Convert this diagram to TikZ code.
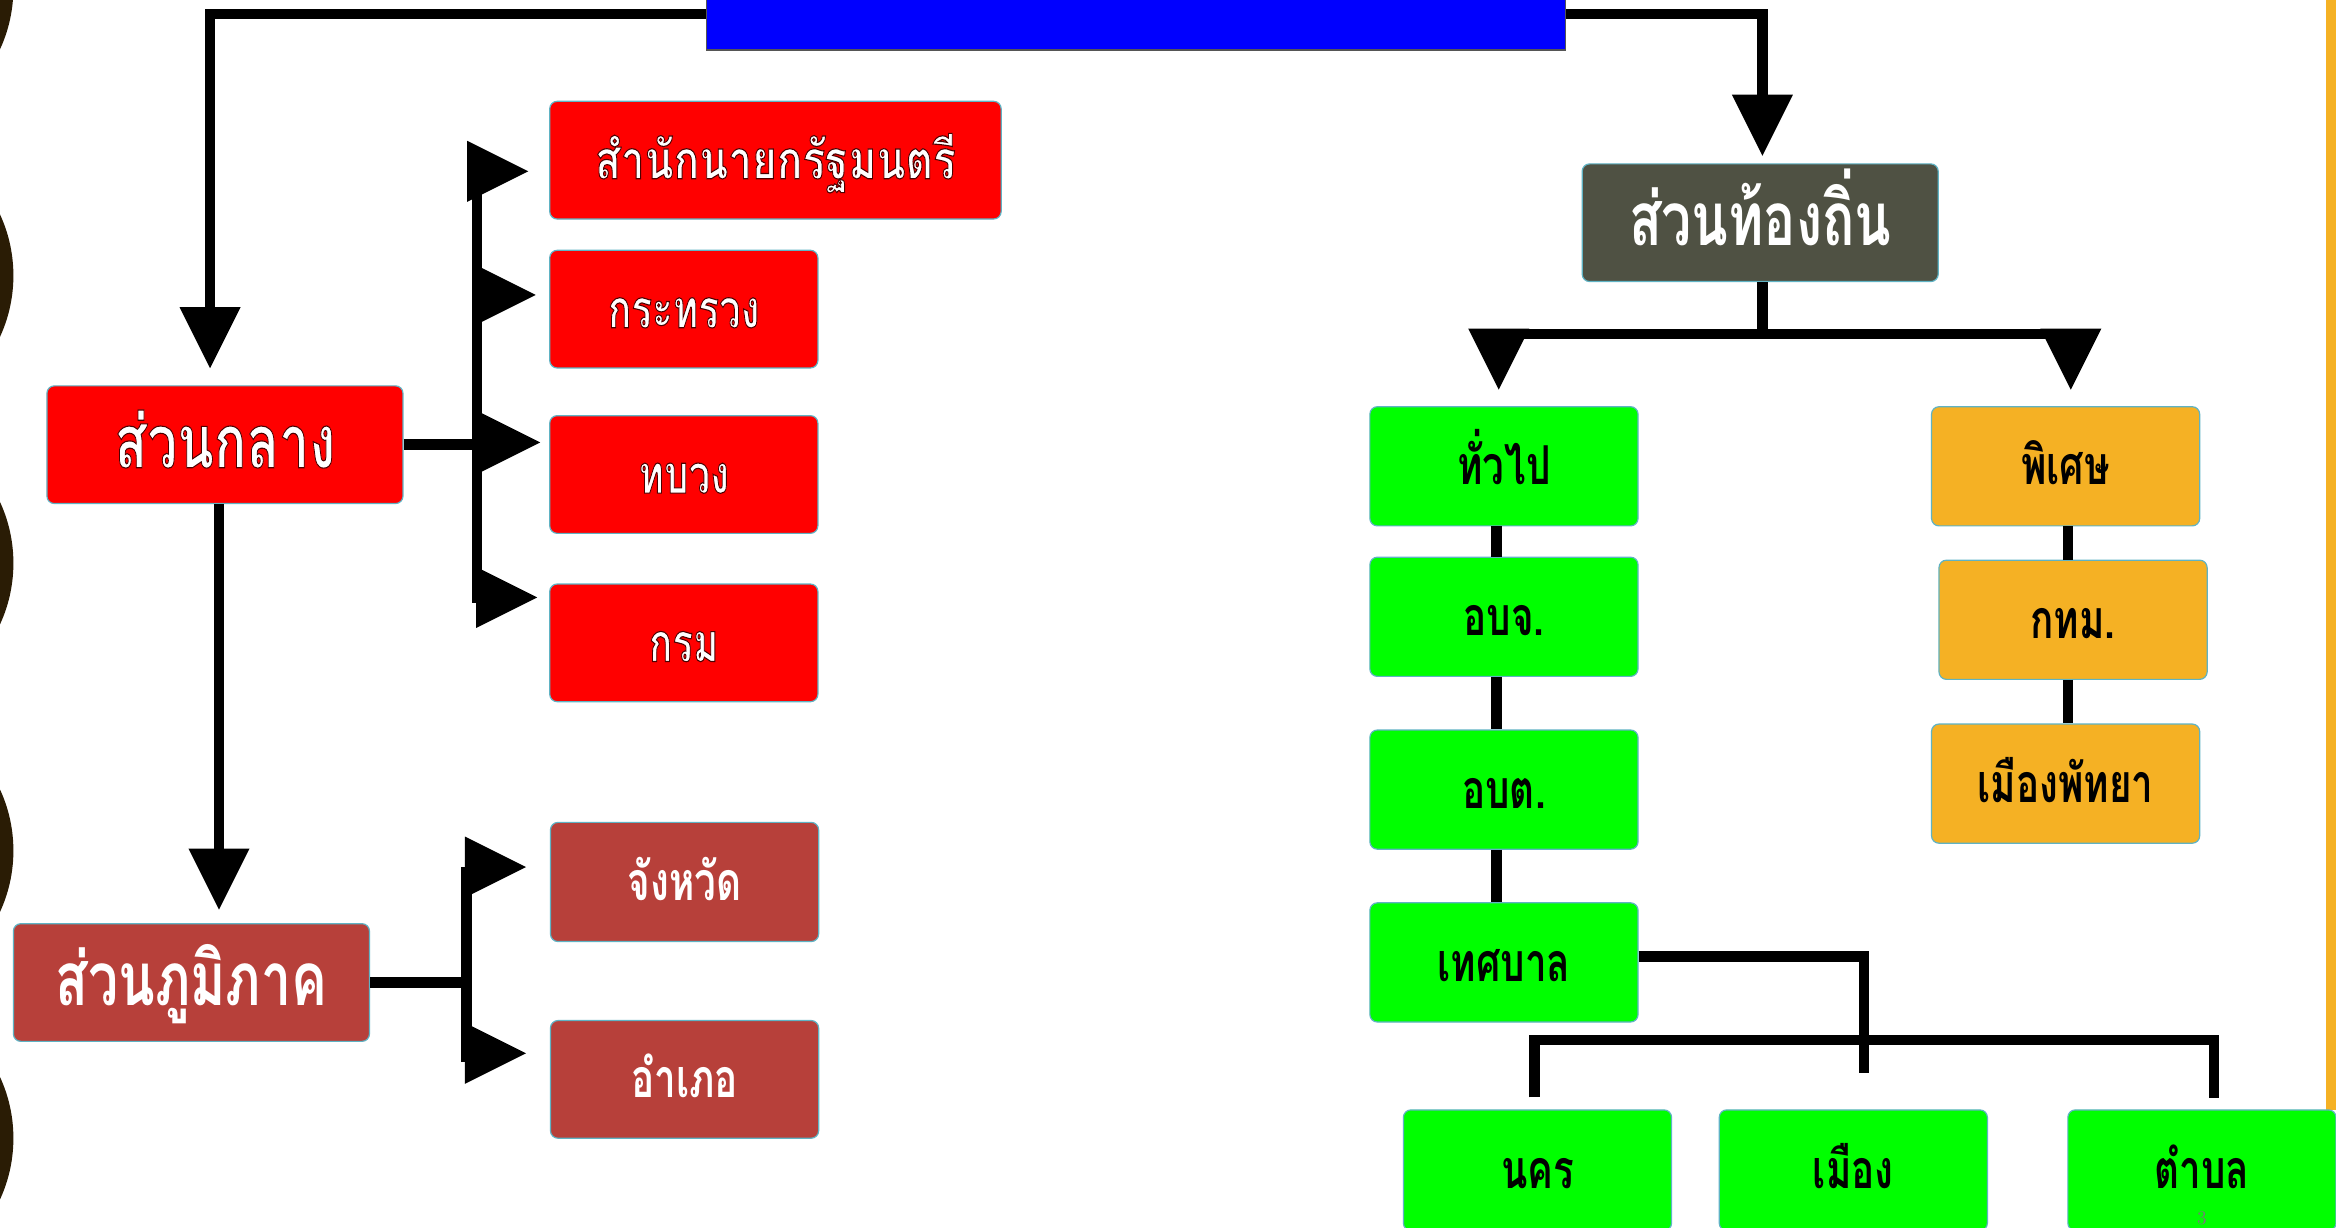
\documentclass[tikz,border=0pt]{standalone}
\usepackage{fontspec}
\usepackage{graphicx}
\newfontfamily\thai[Script=Thai]{Loma}
\usetikzlibrary{arrows.meta}
\definecolor{pured}{HTML}{FF0000}
\definecolor{brick}{HTML}{B7403A}
\definecolor{olive}{HTML}{4F5143}
\definecolor{lime}{HTML}{00FF00}
\definecolor{gold}{HTML}{F5B124}
\definecolor{edge}{HTML}{5FB3C4}
\definecolor{scallop}{HTML}{2A1C05}
\definecolor{barblue}{HTML}{0000FF}
\definecolor{baredge}{HTML}{555555}
\definecolor{pagegray}{HTML}{787878}
\newcommand\cond[1]{\scalebox{0.72}[1]{#1}}
% white letters with a thin dark red rim (one copy of the text, fill + stroke)
\newcommand\glow[1]{\special{pdf:literal direct 0.3 0 0 RG 2 Tr 0.75 w}#1\special{pdf:literal direct 0 Tr}}
\tikzset{
  box/.style={draw=edge, line width=0.8pt, rounded corners=5pt, inner sep=0pt,
    minimum width=180pt, minimum height=80pt, text height=25pt, text depth=0pt,
    font=\thai\bfseries\fontsize{36}{40}\selectfont},
  bigtext/.style={minimum width=239pt, text height=31pt,
    font=\thai\bfseries\fontsize{50}{54}\selectfont},
  redbox/.style={box, fill=pured, text=white},
  brickbox/.style={box, fill=brick, text=white},
  olivebox/.style={box, fill=olive, text=white},
  greenbox/.style={box, fill=lime, text=black},
  goldbox/.style={box, fill=gold, text=black},
  conn/.style={line width=7pt, draw=black},
  arr/.style={conn, -{Triangle[width=41pt,length=41pt,line width=0pt]}},
}
\begin{document}
\begin{tikzpicture}[x=1pt,y=-1pt]
\useasboundingbox (0,0) rectangle (1568,824);
\fill[white] (0,0) rectangle (1568,824);
% left scallops
\foreach \cy in {-8,185,378,571,764} \fill[scallop] (-89,\cy) circle (98);
% right stripe
\fill[gold] (1561,0) rectangle (1568,745);
% top bar
\node[draw=baredge, line width=0.8pt, fill=barblue, minimum width=577pt, minimum height=48pt, inner sep=0pt] (bar) at (762.5,9.5) {};
% central
\node[redbox, bigtext, minimum height=79pt] (gl) at (151,298.5) {\cond{\glow{ส่วนกลาง}}};
\node[redbox, minimum width=303pt, minimum height=79pt] (pm) at (520.5,107.5) {\scalebox{0.79}[1]{\glow{สำนักนายกรัฐมนตรี}}};
\node[redbox, minimum height=79pt] (mi) at (459,207.5) {\cond{\glow{กระทรวง}}};
\node[redbox, minimum height=79pt] (tb) at (459,318.5) {\cond{\glow{ทบวง}}};
\node[redbox, minimum height=79pt] (km) at (459,431.5) {\cond{\glow{กรม}}};
% regional
\node[brickbox, bigtext, minimum height=79pt] (gr) at (128.5,659.5) {\cond{ส่วนภูมิภาค}};
\node[brickbox] (cw) at (459.5,592) {\cond{จังหวัด}};
\node[brickbox, minimum height=79pt] (ap) at (459.5,724.5) {\cond{อำเภอ}};
% local
\node[olivebox, bigtext, minimum height=79pt] (lt) at (1181.5,149.5) {\cond{ส่วนท้องถิ่น}};
\node[greenbox] (gen) at (1009.5,313) {\cond{ทั่วไป}};
\node[greenbox] (abj) at (1009.5,414) {\cond{อบจ.}};
\node[greenbox] (abt) at (1009.5,530) {\cond{อบต.}};
\node[greenbox] (tsb) at (1009.5,646) {\cond{เทศบาล}};
\node[goldbox] (sp) at (1386.5,313) {\cond{พิเศษ}};
\node[goldbox] (bkk) at (1391.5,416) {\cond{กทม.}};
\node[goldbox] (pty) at (1386.5,526) {\cond{เมืองพัทยา}};
\node[greenbox, minimum height=81pt] (nk) at (1032,785.5) {\cond{นคร}};
\node[greenbox, minimum height=81pt] (mu) at (1244,785.5) {\cond{เมือง}};
\node[greenbox, minimum height=81pt] (tm) at (1478,785.5) {\cond{ตำบล}};
\node[text=pagegray, font=\fontsize{13}{13}\selectfont, anchor=north, inner sep=0pt] (pg) at (1478,813) {3};
% coordinates
\coordinate (spA) at (320,115);
\coordinate (spM) at (320,198);
\coordinate (spT) at (320,297);
\coordinate (spB) at (320,401);
\coordinate (spE) at (320,405);
\coordinate (rpA) at (313,582);
\coordinate (rpB) at (313,707);
\coordinate (rpE) at (313,713);
\coordinate (lj) at (1183,224);
\coordinate (tsbEnd) at (1251,720);
\coordinate (tmTop) at (1486,737);
% connectors: top
\draw[arr, shorten >=11.5pt] (bar.west) -| ([xshift=-10pt]gl.north);
\draw[arr, shorten >=5pt] (bar.east) -| ([xshift=1.5pt]lt.north);
% central branch
\draw[conn] (spA) -- (spE);
\draw[conn] (gl.east) -- (gl.east -| spA);
\draw[arr, shorten >=14pt] (spA) -- (spA -| pm.west);
\draw[arr, shorten >=9pt] (spM) -- (spM -| mi.west);
\draw[arr, shorten >=6pt] (spT) -- (spT -| tb.west);
\draw[arr, shorten >=8pt] (spB) -- (spB -| km.west);
\draw[arr, shorten >=9pt] ([xshift=-4pt]gl.south) -- ([xshift=-4pt]gl.south |- gr.north);
% regional branch
\draw[conn] (rpA) -- (rpE);
\draw[conn] (gr.east) -- (gr.east -| rpA);
\draw[arr, shorten >=16pt] (rpA) -- (rpA -| cw.west);
\draw[arr, shorten >=16pt] (rpB) -- (rpB -| ap.west);
% local branch
\draw[conn] (lt.south -| lj) -- (lj);
\draw[arr, shorten >=11pt] (lj) -| ([xshift=-3.5pt]gen.north);
\draw[arr, shorten >=11pt] (lj) -| ([xshift=3.5pt]sp.north);
\draw[conn] ([xshift=-5pt]gen.south) -- ([xshift=-5pt]abj.north);
\draw[conn] ([xshift=-5pt]abj.south) -- ([xshift=-5pt]abt.north);
\draw[conn] ([xshift=-5pt]abt.south) -- ([xshift=-5pt]tsb.north);
\draw[conn] ([xshift=1.5pt]sp.south) -- ([xshift=1.5pt]sp.south |- bkk.north);
\draw[conn] ([xshift=-3.5pt]bkk.south) -- ([xshift=-3.5pt]bkk.south |- pty.north);
\draw[conn] ([yshift=4pt]tsb.east) -| (tsbEnd);
\draw[conn] ([xshift=-2pt,yshift=8pt]nk.north) |- (tmTop |- 0,698) -- (tmTop);
\end{tikzpicture}
\end{document}
